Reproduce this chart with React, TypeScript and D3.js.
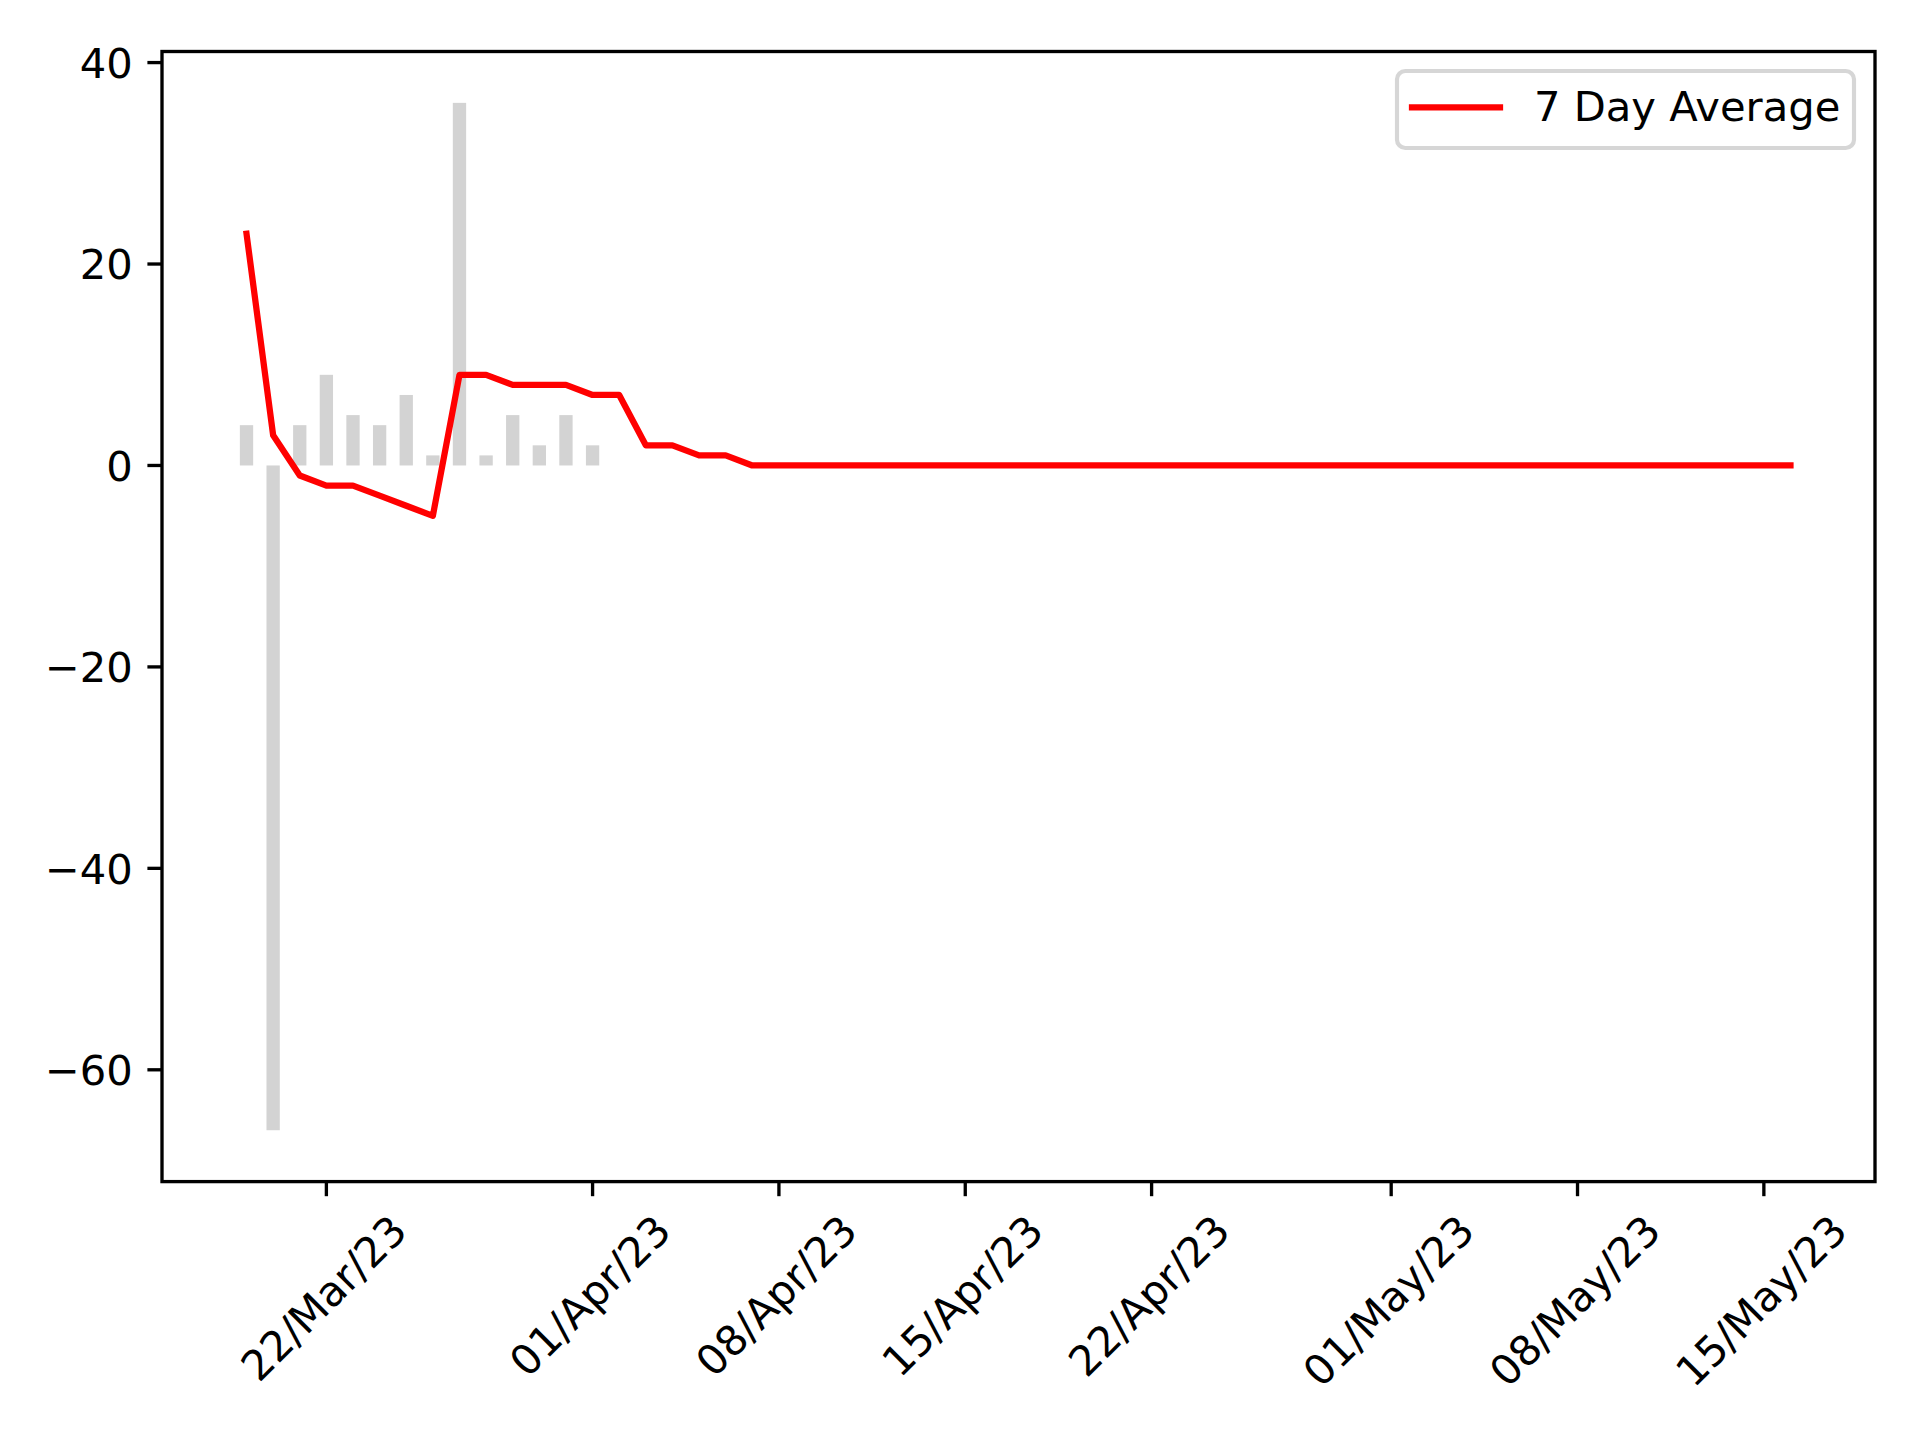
import React, { useEffect, useRef } from 'react';
import * as d3 from 'd3';

// ---- data ----
const startDate = '2023-03-19';
const barValues = [4, -66, 4, 9, 5, 4, 7, 1, 36, 1, 5, 2, 5, 2];
const avgValues = [
  23, 3, -1, -2, -2, -3, -4, -5, 9, 9, 8, 8, 8, 7, 7, 2, 2, 1, 1,
  0, 0, 0, 0, 0, 0, 0, 0, 0, 0, 0, 0, 0, 0, 0, 0, 0, 0, 0, 0, 0, 0, 0, 0,
  0, 0, 0, 0, 0, 0, 0, 0, 0, 0, 0, 0, 0, 0, 0, 0,
];
const xTickDates = [
  '2023-03-22', '2023-04-01', '2023-04-08', '2023-04-15',
  '2023-04-22', '2023-05-01', '2023-05-08', '2023-05-15',
];
const yTicks = [-60, -40, -20, 0, 20, 40];
const legendLabel = '7 Day Average';

// ---- layout ----
const W = 1920;
const H = 1440;
const M = { left: 162, right: 1875, top: 51.5, bottom: 1181.6 };
const FONT = 41.67;
const SPINE = 3.33;
const TICK_LEN = 14.6;
const TICK_PAD = 14.6;

export default function App() {
  const ref = useRef<SVGSVGElement | null>(null);

  useEffect(() => {
    const svg = d3.select(ref.current);
    svg.selectAll('*').remove();

    const parse = d3.utcParse('%Y-%m-%d');
    const start = parse(startDate) as Date;
    const dates = avgValues.map((_, i) => d3.utcDay.offset(start, i));
    const half = 0.25 * 86400000;
    const lo = dates[0].getTime() - half;
    const hi = dates[dates.length - 1].getTime() + half;
    const padX = (hi - lo) * 0.05;
    const x = d3.scaleUtc().domain([new Date(lo - padX), new Date(hi + padX)]).range([M.left, M.right]);

    const allY = [...barValues, ...avgValues];
    const yMin = d3.min(allY) as number;
    const yMax = d3.max(allY) as number;
    const padY = (yMax - yMin) * 0.05;
    const y = d3.scaleLinear().domain([yMin - padY, yMax + padY]).range([M.bottom, M.top]);

    svg.append('rect').attr('width', W).attr('height', H).attr('fill', 'white');

    // bars
    svg.append('g')
      .selectAll('rect')
      .data(barValues)
      .join('rect')
      .attr('x', (_, i) => x(new Date(dates[i].getTime() - half)))
      .attr('width', (_, i) => x(new Date(dates[i].getTime() + half)) - x(new Date(dates[i].getTime() - half)))
      .attr('y', (d) => y(Math.max(0, d)))
      .attr('height', (d) => Math.abs(y(d) - y(0)))
      .attr('fill', '#d3d3d3');

    // line
    const line = d3.line<number>()
      .x((_, i) => x(dates[i]))
      .y((d) => y(d));
    svg.append('path')
      .datum(avgValues)
      .attr('d', line)
      .attr('fill', 'none')
      .attr('stroke', '#ff0000')
      .attr('stroke-width', 6.25)
      .attr('stroke-linejoin', 'round')
      .attr('stroke-linecap', 'square');

    // spines
    svg.append('rect')
      .attr('x', M.left).attr('y', M.top)
      .attr('width', M.right - M.left).attr('height', M.bottom - M.top)
      .attr('fill', 'none').attr('stroke', 'black').attr('stroke-width', SPINE)
      .attr('stroke-linejoin', 'miter');

    const font = "'DejaVu Sans', sans-serif";

    // y ticks
    const yg = svg.append('g');
    yTicks.forEach((t) => {
      const yy = y(t);
      yg.append('line')
        .attr('x1', M.left - TICK_LEN).attr('x2', M.left)
        .attr('y1', yy).attr('y2', yy)
        .attr('stroke', 'black').attr('stroke-width', SPINE);
      yg.append('text')
        .attr('x', M.left - TICK_LEN - TICK_PAD)
        .attr('y', yy + 0.365 * FONT)
        .attr('text-anchor', 'end')
        .attr('font-family', font)
        .attr('font-size', FONT)
        .attr('fill', 'black')
        .text(d3.format('d')(t).replace('-', '\u2212'));
    });

    // x ticks
    const fmt = d3.utcFormat('%d/%b/%y');
    const xg = svg.append('g');
    const topY = M.bottom + TICK_LEN + TICK_PAD;
    const h = FONT * 0.996;
    xTickDates.forEach((s) => {
      const d = parse(s) as Date;
      const xx = x(d);
      xg.append('line')
        .attr('x1', xx).attr('x2', xx)
        .attr('y1', M.bottom).attr('y2', M.bottom + TICK_LEN)
        .attr('stroke', 'black').attr('stroke-width', SPINE);
      const g = xg.append('g');
      const txt = g.append('text')
        .attr('x', 0)
        .attr('y', FONT * 0.262)
        .attr('text-anchor', 'middle')
        .attr('font-family', font)
        .attr('font-size', FONT)
        .attr('fill', 'black')
        .text(fmt(d));
      const w = (txt.node() as SVGTextElement).getComputedTextLength();
      const cy = topY + (w + h) / (2 * Math.SQRT2);
      g.attr('transform', `translate(${xx},${cy}) rotate(-45)`);
    });

    // legend
    const lg = svg.append('g');
    lg.append('rect')
      .attr('x', 1397).attr('y', 71)
      .attr('width', 457).attr('height', 77)
      .attr('rx', 8.3).attr('ry', 8.3)
      .attr('fill', 'white').attr('fill-opacity', 0.8)
      .attr('stroke', '#d6d6d6').attr('stroke-width', 4.17);
    lg.append('line')
      .attr('x1', 1412).attr('x2', 1500)
      .attr('y1', 107.3).attr('y2', 107.3)
      .attr('stroke', '#ff0000').attr('stroke-width', 6.25)
      .attr('stroke-linecap', 'square');
    lg.append('text')
      .attr('x', 1534).attr('y', 121)
      .attr('font-family', font)
      .attr('font-size', FONT)
      .attr('fill', 'black')
      .text(legendLabel);
  }, []);

  return (
    <svg
      ref={ref}
      width={W}
      height={H}
      style={{ position: 'absolute', left: 0, top: 0, display: 'block' }}
    />
  );
}
